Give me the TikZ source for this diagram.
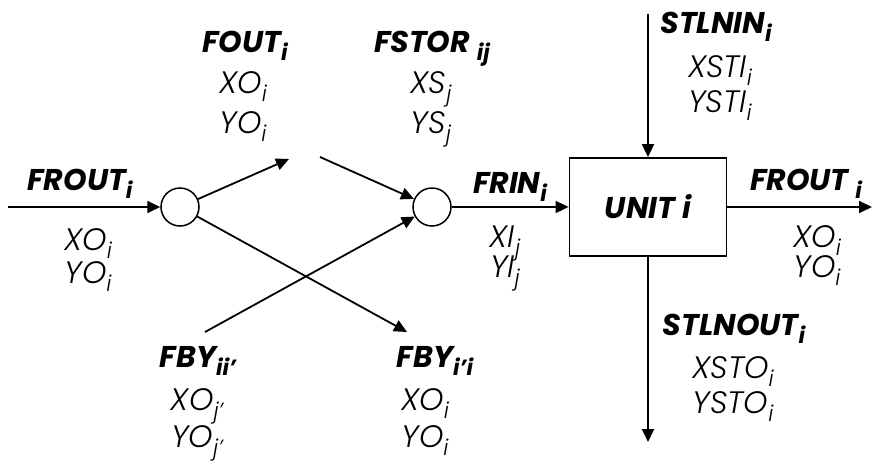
\documentclass[tikz,border=0pt]{standalone}
\usepackage{fontspec}
\setmainfont{Poppins}[UprightFont=* Light, ItalicFont=* Light Italic, BoldFont=* Bold, BoldItalicFont=* Bold Italic]
\usetikzlibrary{arrows.meta}
\newcommand\lo[1]{\raisebox{-0.28em}{\fontsize{22}{22}\selectfont #1}}
\tikzset{
  flow/.style={line width=1.8pt, -{Triangle[length=13pt,width=12pt]}},
  ttl/.style={anchor=base, font=\fontsize{30}{30}\selectfont\bfseries\itshape, inner sep=0pt},
  var/.style={anchor=base, font=\fontsize{31}{31}\selectfont\itshape, inner sep=0pt},
  mix/.style={circle, draw, line width=1.5pt, minimum size=38pt, inner sep=0pt},
  unitbox/.style={draw, line width=1.8pt, minimum width=157pt, minimum height=98pt, inner sep=0pt,
    font=\fontsize{30}{30}\selectfont\bfseries\itshape}
}
\begin{document}
\begin{tikzpicture}[x=1pt,y=-1pt]
\useasboundingbox (0,0) rectangle (873,466);
% nodes
\node[mix] (c1) at (180,207) {};
\node[mix] (c2) at (432,207) {};
\node[unitbox] (unit) at (648,207) {UNIT i};
% free ends
\coordinate (inL) at (8,207);
\coordinate (foutEnd) at (289,159);
\coordinate (fstorStart) at (320,157);
\coordinate (fbyA) at (205,332);
\coordinate (fbyB) at (407,332);
\coordinate (outR) at (872,207);
\coordinate (stIn) at (648,14);
\coordinate (stOut) at (648,442);
% connectors
\draw[flow] (inL) -- (c1);
\draw[flow] (c1) -- (foutEnd);
\draw[flow] (fstorStart) -- (c2);
\draw[flow] (c1) -- (fbyB);
\draw[flow] (fbyA) -- (c2);
\draw[flow] (c2) -- (unit);
\draw[flow] (unit) -- (outR);
\draw[flow] (stIn) -- (unit);
\draw[flow] (unit) -- (stOut);
% labels
\node[ttl] (t1) at (80,190) {FROUT\lo{i}};
\node[var] (t1a) at (88,250) {XO\lo{i}};
\node[var] (t1b) at (88,283) {YO\lo{i}};
\node[ttl] (t2) at (245,52) {FOUT\lo{i}};
\node[var] (t2a) at (243,93) {XO\lo{i}};
\node[var] (t2b) at (243,133) {YO\lo{i}};
\node[ttl] (t3) at (432,52) {FSTOR \lo{ij}};
\node[var] (t3a) at (431,93) {XS\lo{j}};
\node[var] (t3b) at (431,133) {YS\lo{j}};
\node[ttl] (t4) at (716,33) {STLNIN\lo{i}};
\node[var] (t4a) at (720,77) {XSTI\lo{i}};
\node[var] (t4b) at (720,112) {YSTI\lo{i}};
\node[ttl] (t5) at (510,193) {FRIN\lo{i}};
\node[var] (t5a) at (505,247) {XI\lo{j}};
\node[var] (t5b) at (505,277) {YI\lo{j}};
\node[ttl] (t6) at (806,190) {FROUT \lo{i}};
\node[var] (t6a) at (817,247) {XO\lo{i}};
\node[var] (t6b) at (817,277) {YO\lo{i}};
\node[ttl] (t7) at (734,335) {STLNOUT\lo{i}};
\node[var] (t7a) at (733,378) {XSTO\lo{i}};
\node[var] (t7b) at (733,413) {YSTO\lo{i}};
\node[ttl] (t8) at (198,367) {FBY\lo{ii'}};
\node[var] (t8a) at (197,410) {XO\lo{j'}};
\node[var] (t8b) at (197,447) {YO\lo{j'}};
\node[ttl] (t9) at (435,367) {FBY\lo{i'i}};
\node[var] (t9a) at (425,410) {XO\lo{i}};
\node[var] (t9b) at (425,447) {YO\lo{i}};
\end{tikzpicture}
\end{document}
